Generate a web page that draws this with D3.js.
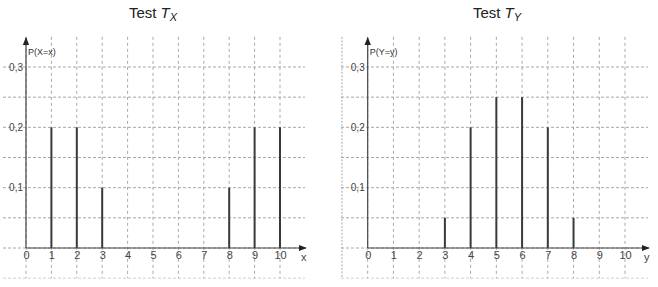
<!DOCTYPE html>
<html>
<head>
<meta charset="utf-8">
<script src="https://cdn.jsdelivr.net/npm/d3@7"></script>
<style>
  body { margin: 0; background: #fff; }
  text { font-family: "Liberation Sans", Arial, sans-serif; }
</style>
</head>
<body>
<div id="chart"></div>
<script>
// data
const outcomes = [0, 1, 2, 3, 4, 5, 6, 7, 8, 9, 10];
const probX = [0, 0.2, 0.2, 0.1, 0, 0, 0, 0, 0.1, 0.2, 0.2];
const probY = [0, 0, 0, 0.05, 0.2, 0.25, 0.25, 0.2, 0.05, 0, 0];
const yTicks = [0.1, 0.2, 0.3];
const gridY = [-0.05, 0, 0.05, 0.1, 0.15, 0.2, 0.25, 0.3];

const W = 658, H = 287;
const svg = d3.select("#chart").append("svg")
  .attr("width", W).attr("height", H);

const defs = svg.append("defs");
defs.append("marker")
  .attr("id", "arrow")
  .attr("viewBox", "0 0 10 10")
  .attr("refX", 9).attr("refY", 5)
  .attr("markerWidth", 8).attr("markerHeight", 8)
  .attr("markerUnits", "userSpaceOnUse")
  .attr("orient", "auto")
  .append("path")
    .attr("d", "M0,1 L10,5 L0,9 z")
    .attr("fill", "#222");

// one panel per test
function panel(opt) {
  const g = svg.append("g");
  const x = d3.scaleLinear().domain([0, 10]).range([opt.x0, opt.x10]);
  const y = d3.scaleLinear().domain([0, 0.3]).range([248, 67]);

  const gridColor = "#a8a8a8";

  // horizontal grid
  g.selectAll(".hg")
    .data(gridY)
    .enter().append("line")
      .attr("x1", opt.left).attr("x2", opt.right)
      .attr("y1", d => y(d)).attr("y2", d => y(d))
      .attr("stroke", d => d < 0 ? "#d0d0d0" : gridColor)
      .attr("stroke-width", 1)
      .attr("stroke-dasharray", "3,2");

  // vertical grid
  const vx = opt.extraLeft ? [-1].concat(outcomes) : outcomes;
  g.selectAll(".vg")
    .data(vx)
    .enter().append("line")
      .attr("x1", d => x(d)).attr("x2", d => x(d))
      .attr("y1", y(0.35)).attr("y2", y(-0.05))
      .attr("stroke", gridColor)
      .attr("stroke-width", 1)
      .attr("stroke-dasharray", d => d < 0 ? "2,1.5" : "3,3");

  // stems
  g.selectAll(".stem")
    .data(outcomes.map((k, i) => ({ k: k, p: opt.probs[i] })).filter(d => d.p > 0))
    .enter().append("line")
      .attr("x1", d => x(d.k)).attr("x2", d => x(d.k))
      .attr("y1", y(0)).attr("y2", d => y(d.p))
      .attr("stroke", "#3a3a3a")
      .attr("stroke-width", 2);

  // axes lines with arrows
  g.append("line")
    .attr("x1", x(0)).attr("x2", opt.right + 1)
    .attr("y1", y(0)).attr("y2", y(0))
    .attr("stroke", "#444").attr("stroke-width", 1.2)
    .attr("marker-end", "url(#arrow)");
  g.append("line")
    .attr("x1", x(0)).attr("x2", x(0))
    .attr("y1", y(0)).attr("y2", y(0.35) + 1)
    .attr("stroke", "#444").attr("stroke-width", 1.2)
    .attr("marker-end", "url(#arrow)");

  // tick labels
  const xAxis = g.append("g")
    .attr("transform", `translate(0,${y(0)})`)
    .call(d3.axisBottom(x).tickValues(outcomes).tickSize(0).tickPadding(3));
  xAxis.select(".domain").remove();
  xAxis.selectAll("text")
    .attr("font-family", "'Liberation Sans', Arial, sans-serif")
    .attr("font-size", 11).attr("fill", "#444");

  const yAxis = g.append("g")
    .attr("transform", `translate(${x(0)},0)`)
    .call(d3.axisLeft(y).tickValues(yTicks).tickSize(0).tickPadding(3)
      .tickFormat(d => d3.format(".1f")(d).replace(".", ",")));
  yAxis.select(".domain").remove();
  yAxis.selectAll("text")
    .attr("font-family", "'Liberation Sans', Arial, sans-serif")
    .attr("font-size", 10).attr("fill", "#444");

  // axis names
  g.append("text")
    .attr("x", x(0) + 2).attr("y", 55)
    .attr("font-size", 9).attr("fill", "#333")
    .text(opt.yLabel);
  g.append("text")
    .attr("x", opt.right - 4).attr("y", 261)
    .attr("font-size", 11).attr("fill", "#444")
    .text(opt.xLabel);

  // title
  const t = g.append("text")
    .attr("x", opt.titleX).attr("y", 18)
    .attr("text-anchor", "middle")
    .attr("font-size", 15).attr("fill", "#222");
  t.append("tspan").text("Test ");
  t.append("tspan").attr("font-style", "italic").text("T");
  t.append("tspan").attr("font-style", "italic")
    .attr("font-size", 11).attr("dy", 3).text(opt.sub);
}

panel({ probs: probX, x0: 26, x10: 280, left: 3, right: 305,
  yLabel: "P(X=x)", xLabel: "x", titleX: 153, sub: "X", extraLeft: false });
panel({ probs: probY, x0: 367.7, x10: 625, left: 341, right: 648,
  yLabel: "P(Y=y)", xLabel: "y", titleX: 497, sub: "Y", extraLeft: true });
</script>
</body>
</html>
